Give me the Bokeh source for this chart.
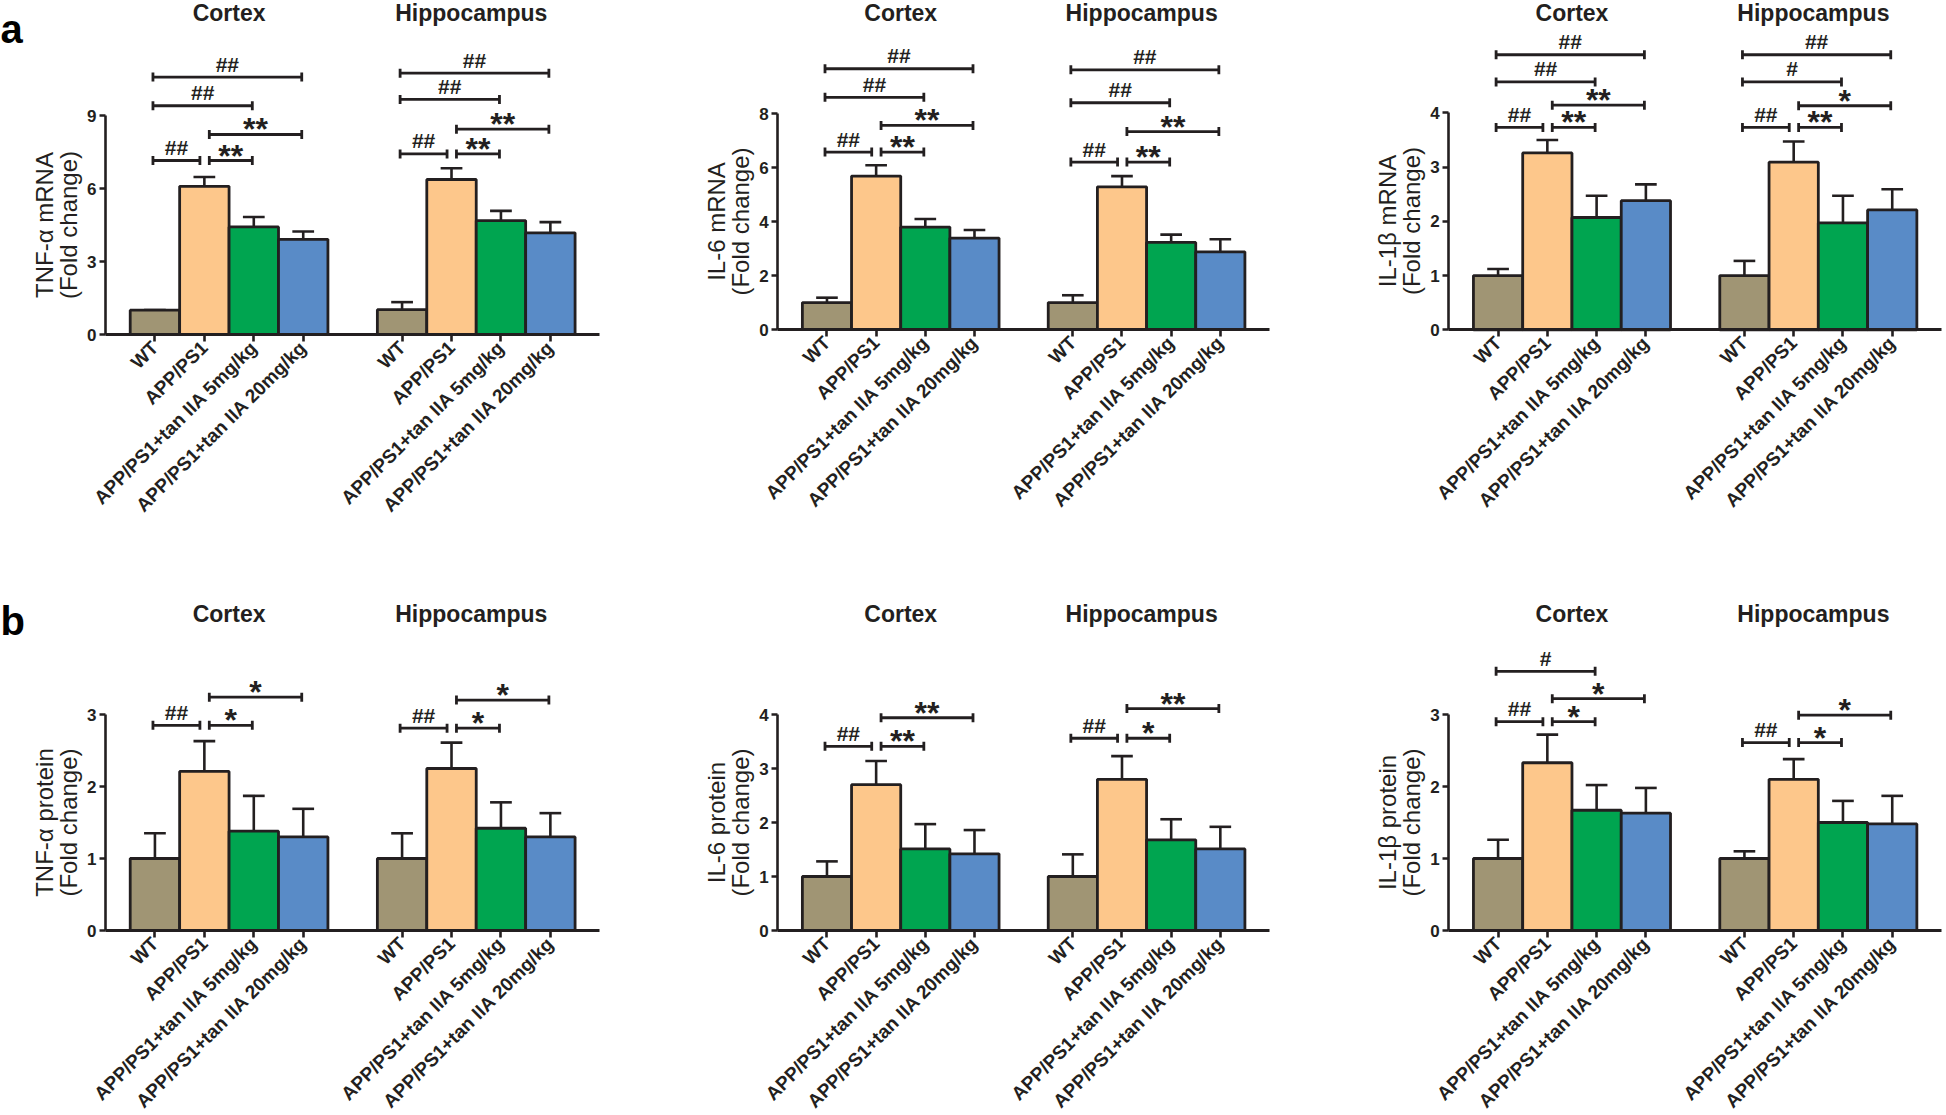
import math
from bokeh.plotting import figure
from bokeh.layouts import column, row
from bokeh.models import FixedTicker, Range1d, ColumnDataSource
from bokeh.embed import file_html
from bokeh.resources import INLINE
from bokeh.core.properties import value

FONT = "Liberation Sans"
INK = "#231F20"

# ---------------- data ----------------
group_labels = ["WT", "APP/PS1", "APP/PS1+tan IIA 5mg/kg", "APP/PS1+tan IIA 20mg/kg"]
region_labels = ["Cortex", "Hippocampus"]
bar_colors = ["#A09574", "#FDC78B", "#00A550", "#598BC7"]

# (a) mRNA
tnf_mrna_cortex = [1.00, 6.09, 4.42, 3.91]
tnf_mrna_cortex_sem = [0.00, 0.38, 0.41, 0.32]
tnf_mrna_hippo = [1.02, 6.37, 4.68, 4.18]
tnf_mrna_hippo_sem = [0.31, 0.46, 0.40, 0.44]
tnf_mrna_ticks = [0, 3, 6, 9]
tnf_mrna_sig = [(0, 1, "##", 7.15), (1, 2, "**", 7.15), (1, 3, "**", 8.22), (0, 2, "##", 9.40), (0, 3, "##", 10.58),
                (5, 6, "##", 7.42), (6, 7, "**", 7.42), (6, 8, "**", 8.44), (5, 7, "##", 9.66), (5, 8, "##", 10.74)]

il6_mrna_cortex = [1.00, 5.69, 3.80, 3.39]
il6_mrna_cortex_sem = [0.18, 0.40, 0.30, 0.30]
il6_mrna_hippo = [1.00, 5.29, 3.23, 2.88]
il6_mrna_hippo_sem = [0.27, 0.40, 0.29, 0.47]
il6_mrna_ticks = [0, 2, 4, 6, 8]
il6_mrna_sig = [(0, 1, "##", 6.58), (1, 2, "**", 6.58), (1, 3, "**", 7.57), (0, 2, "##", 8.61), (0, 3, "##", 9.67),
                (5, 6, "##", 6.21), (6, 7, "**", 6.21), (6, 8, "**", 7.34), (5, 7, "##", 8.41), (5, 8, "##", 9.63)]

il1b_mrna_cortex = [1.00, 3.26, 2.07, 2.38]
il1b_mrna_cortex_sem = [0.12, 0.24, 0.40, 0.30]
il1b_mrna_hippo = [1.00, 3.09, 1.97, 2.21]
il1b_mrna_hippo_sem = [0.27, 0.38, 0.50, 0.38]
il1b_mrna_ticks = [0, 1, 2, 3, 4]
il1b_mrna_sig = [(0, 1, "##", 3.73), (1, 2, "**", 3.73), (1, 3, "**", 4.14), (0, 2, "##", 4.57), (0, 3, "##", 5.07),
                 (5, 6, "##", 3.73), (6, 7, "**", 3.73), (6, 8, "*", 4.13), (5, 7, "#", 4.57), (5, 8, "##", 5.07)]

# (b) protein
tnf_prot_cortex = [1.00, 2.21, 1.38, 1.30]
tnf_prot_cortex_sem = [0.35, 0.42, 0.49, 0.39]
tnf_prot_hippo = [1.00, 2.25, 1.42, 1.30]
tnf_prot_hippo_sem = [0.35, 0.36, 0.36, 0.33]
tnf_prot_ticks = [0, 1, 2, 3]
tnf_prot_sig = [(0, 1, "##", 2.85), (1, 2, "*", 2.85), (1, 3, "*", 3.24),
                (5, 6, "##", 2.81), (6, 7, "*", 2.81), (6, 8, "*", 3.20)]

il6_prot_cortex = [1.00, 2.70, 1.51, 1.42]
il6_prot_cortex_sem = [0.28, 0.44, 0.46, 0.44]
il6_prot_hippo = [1.00, 2.80, 1.68, 1.51]
il6_prot_hippo_sem = [0.41, 0.43, 0.38, 0.41]
il6_prot_ticks = [0, 1, 2, 3, 4]
il6_prot_sig = [(0, 1, "##", 3.41), (1, 2, "**", 3.41), (1, 3, "**", 3.94),
                (5, 6, "##", 3.56), (6, 7, "*", 3.56), (6, 8, "**", 4.11)]

il1b_prot_cortex = [1.00, 2.33, 1.67, 1.63]
il1b_prot_cortex_sem = [0.26, 0.39, 0.35, 0.35]
il1b_prot_hippo = [1.00, 2.10, 1.50, 1.48]
il1b_prot_hippo_sem = [0.10, 0.28, 0.30, 0.39]
il1b_prot_ticks = [0, 1, 2, 3]
il1b_prot_sig = [(0, 1, "##", 2.90), (1, 2, "*", 2.90), (1, 3, "*", 3.22), (0, 2, "#", 3.60),
                 (5, 6, "##", 2.61), (6, 7, "*", 2.61), (6, 8, "*", 2.99)]

# ---------------- layout (page pixels) ----------------
COLS = [(0, 650, 105.0, 599.3), (650, 680, 777.3, 1269.0), (1330, 616, 1448.3, 1941.0)]
ROWS = [(0, 580), (580, 535)]


def panel(col, rowi, y0, ytop, ticks, ylabel, cortex, cortex_sem, hippo, hippo_sem, sig,
          title_base, letter=None, letter_base=None):
    X0, W, xa, xr = COLS[col]
    Y0, H = ROWS[rowi]
    ymax = ticks[-1]
    ux = (xr - xa) / 10.0
    uy = (y0 - ytop) / ymax
    x_start = -1 - (xa - X0) / ux
    x_end = 9 + (X0 + W - xr) / ux
    y_end = (y0 - Y0) / uy
    y_start = -((Y0 + H) - y0) / uy

    p = figure(width=W, height=H, x_range=Range1d(x_start, x_end), y_range=Range1d(y_start, y_end),
               output_backend="svg", toolbar_location=None, min_border=0)
    p.outline_line_color = None
    p.xgrid.visible = False
    p.ygrid.visible = False
    p.background_fill_color = "white"
    p.border_fill_color = "white"

    slots = [r * 5 + g for r in range(2) for g in range(4)]
    tops = list(cortex) + list(hippo)
    sems = list(cortex_sem) + list(hippo_sem)
    src = ColumnDataSource(dict(
        x=slots, top=tops, err=[t + e for t, e in zip(tops, sems)],
        c0=[s - 0.22 for s in slots], c1=[s + 0.22 for s in slots],
        color=bar_colors * 2))
    p.segment(x0="x", y0="top", x1="x", y1="err", source=src, line_color=INK, line_width=2.6)
    p.segment(x0="c0", y0="err", x1="c1", y1="err", source=src, line_color=INK, line_width=2.6)
    p.vbar(x="x", top="top", width=1.0, bottom=0, source=src, fill_color="color",
           line_color=INK, line_width=2.8)

    # significance brackets
    bx0, bx1, by, lx, ly, lt, sx, sy0, sy1 = [], [], [], [], [], [], [], [], []
    hx, hy, ht = [], [], []
    for (i, j, lab, h) in sig:
        xs = i + (0.10 if i % 5 == 1 else -0.04)
        xe = j + (-0.09 if j % 5 == 1 else -0.03)
        bx0.append(xs); bx1.append(xe); by.append(h)
        for xx in (xs, xe):
            sx.append(xx); sy0.append(h - 4.5 / uy); sy1.append(h + 4.5 / uy)
        if "#" in lab:
            hx.append((xs + xe) / 2); hy.append(h + 13.0 / uy); ht.append(lab)
        else:
            lx.append((xs + xe) / 2); ly.append(h + 5.0 / uy); lt.append(lab)
    p.segment(x0=bx0, y0=by, x1=bx1, y1=by, line_color=INK, line_width=2.8)
    p.segment(x0=sx, y0=sy0, x1=sx, y1=sy1, line_color=INK, line_width=2.8)
    p.text(x=hx, y=hy, text=ht, text_font=value(FONT), text_font_style="bold",
           text_font_size="21px", text_align="center", text_baseline="alphabetic", text_color=INK)
    p.text(x=lx, y=ly, text=lt, text_font=value(FONT), text_font_style="bold",
           text_font_size="32px", text_align="center", text_baseline="alphabetic", text_color=INK)

    # region titles
    ty = (y0 - title_base) / uy
    p.text(x=[1.5, 6.4], y=[ty, ty], text=region_labels, text_font=value(FONT), text_font_style="bold",
           text_font_size="23px", text_align="center", text_baseline="alphabetic", text_color=INK)

    if letter is not None:
        ly_ = (y0 - letter_base) / uy
        p.text(x=[x_start], y=[ly_], text=[letter], text_font=value(FONT), text_font_style="bold",
               text_font_size="40px", text_align="left", text_baseline="alphabetic", text_color="black")

    # axes
    xax = p.xaxis[0]
    xax.fixed_location = 0
    xax.bounds = (-1, 9)
    xax.ticker = FixedTicker(ticks=slots)
    xax.major_label_overrides = {s: group_labels[k % 4] for k, s in enumerate(slots)}
    xax.major_label_orientation = math.pi / 4
    xax.major_label_text_font = FONT
    xax.major_label_text_font_style = "bold"
    xax.major_label_text_font_size = "19px"
    xax.major_label_text_color = INK
    xax.major_label_standoff = 3
    xax.major_tick_out = 7
    xax.major_tick_in = 0
    xax.minor_tick_line_color = None
    xax.axis_line_width = 3
    xax.axis_line_color = INK
    xax.major_tick_line_width = 2.6
    xax.major_tick_line_color = INK

    yax = p.yaxis[0]
    yax.fixed_location = -1
    yax.bounds = (0, ymax)
    yax.ticker = FixedTicker(ticks=ticks)
    yax.major_label_text_font = FONT
    yax.major_label_text_font_style = "bold"
    yax.major_label_text_font_size = "17px"
    yax.major_label_text_color = INK
    yax.major_label_standoff = 3
    yax.major_tick_out = 6
    yax.major_tick_in = 0
    yax.minor_tick_line_color = None
    yax.axis_line_width = 2.6
    yax.axis_line_color = INK
    yax.major_tick_line_width = 2.6
    yax.major_tick_line_color = INK
    yax.axis_label = ylabel
    yax.axis_label_text_font = FONT
    yax.axis_label_text_font_style = "normal"
    yax.axis_label_text_font_size = "24px"
    yax.axis_label_text_color = INK
    yax.axis_label_text_line_height = 0.9
    yax.axis_label_standoff = 2
    return p


p1 = panel(0, 0, 334.0, 115.0, tnf_mrna_ticks, "TNF-α mRNA\n(Fold change)",
           tnf_mrna_cortex, tnf_mrna_cortex_sem, tnf_mrna_hippo, tnf_mrna_hippo_sem, tnf_mrna_sig,
           12, "a", 28)
p2 = panel(1, 0, 329.0, 113.3, il6_mrna_ticks, "IL-6 mRNA\n(Fold change)",
           il6_mrna_cortex, il6_mrna_cortex_sem, il6_mrna_hippo, il6_mrna_hippo_sem, il6_mrna_sig, 12)
p3 = panel(2, 0, 329.3, 112.3, il1b_mrna_ticks, "IL-1β mRNA\n(Fold change)",
           il1b_mrna_cortex, il1b_mrna_cortex_sem, il1b_mrna_hippo, il1b_mrna_hippo_sem, il1b_mrna_sig, 12)
p4 = panel(0, 1, 930.0, 714.0, tnf_prot_ticks, "TNF-α protein\n(Fold change)",
           tnf_prot_cortex, tnf_prot_cortex_sem, tnf_prot_hippo, tnf_prot_hippo_sem, tnf_prot_sig,
           613, "b", 620)
p5 = panel(1, 1, 930.0, 714.0, il6_prot_ticks, "IL-6 protein\n(Fold change)",
           il6_prot_cortex, il6_prot_cortex_sem, il6_prot_hippo, il6_prot_hippo_sem, il6_prot_sig, 613)
p6 = panel(2, 1, 930.0, 714.0, il1b_prot_ticks, "IL-1β protein\n(Fold change)",
           il1b_prot_cortex, il1b_prot_cortex_sem, il1b_prot_hippo, il1b_prot_hippo_sem, il1b_prot_sig, 613)

layout = column(row(p1, p2, p3), row(p4, p5, p6))
open("out.html", "w").write(file_html(layout, INLINE))
